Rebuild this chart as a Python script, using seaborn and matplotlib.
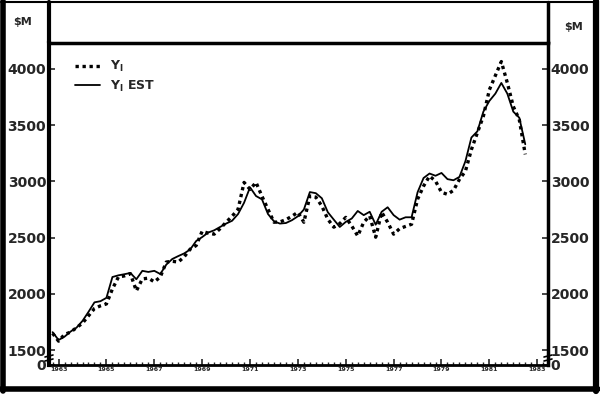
import numpy as np
import pandas as pd
import matplotlib
matplotlib.use("Agg")
import matplotlib.pyplot as plt
from matplotlib.lines import Line2D
import seaborn as sns

# quarterly observations, starting with 1962 Q4
start_year = 1962.75
y_actual = [1650, 1580, 1640, 1660, 1700, 1740, 1805, 1870, 1894, 1911,
            2044, 2150, 2160, 2180, 2027, 2133, 2140, 2107, 2150, 2283,
            2290, 2283, 2330, 2398, 2430, 2557, 2540, 2531, 2580, 2637,
            2690, 2752, 2991, 2929, 2991, 2867, 2752, 2637, 2640, 2660,
            2690, 2726, 2637, 2870, 2860, 2781, 2664, 2593, 2625, 2680,
            2604, 2515, 2637, 2693, 2504, 2726, 2637, 2531, 2580, 2600,
            2619, 2841, 2958, 3047, 3003, 2903, 2885, 2920, 3018, 3091,
            3283, 3433, 3580, 3814, 3940, 4065, 3876, 3666, 3549, 3240]
y_est = [1660, 1590, 1620, 1665, 1700, 1760, 1840, 1925, 1935, 1965,
         2150, 2165, 2175, 2186, 2130, 2205, 2195, 2205, 2177, 2260,
         2310, 2336, 2360, 2395, 2470, 2505, 2545, 2565, 2595, 2625,
         2650, 2710, 2810, 2947, 2870, 2840, 2710, 2645, 2625, 2630,
         2655, 2690, 2750, 2905, 2895, 2850, 2726, 2660, 2595, 2640,
         2670, 2737, 2700, 2730, 2615, 2730, 2770, 2700, 2660, 2681,
         2681, 2903, 3030, 3070, 3050, 3075, 3020, 3010, 3040, 3180,
         3390, 3445, 3620, 3715, 3780, 3875, 3780, 3620, 3566, 3330]
year_labels = ["1963", "1965", "1967", "1969", "1971", "1973", "1975",
               "1977", "1979", "1981", "1983"]
ytick_values = [1500, 2000, 2500, 3000, 3500, 4000]
unit_label = "$M"

quarters = start_year + np.arange(len(y_actual)) * 0.25
df = pd.DataFrame({"year": quarters, "actual": y_actual, "est": y_est})

sns.set_style("white")
plt.rcParams["font.family"] = ["DejaVu Sans"]
plt.rcParams["font.weight"] = "bold"

W, H = 600, 396
fig = plt.figure(figsize=(6, 3.96), dpi=100)
ax_l, ax_r, ax_t, ax_b = 49, 548, 43, 365
ax = fig.add_axes([ax_l / W, 1 - ax_b / H, (ax_r - ax_l) / W, (ax_b - ax_t) / H])

sns.lineplot(data=df, x="year", y="actual", ax=ax, color="black", lw=2.4,
             linestyle=(0, (1.0, 1.1)), label=r"Y$_{\mathbf{I}}$")
sns.lineplot(data=df, x="year", y="est", ax=ax, color="black", lw=1.3,
             label=r"Y$_{\mathbf{I}}$ EST")

ymin, ymax = 1368, 4230
ax.set_ylim(ymin, ymax)
ax.set_xlim(1962.6, 1983.45)

# y ticks (left and right), with the broken axis bottom marked as 0
yt = [ymin] + ytick_values
ylabels = ["0"] + [str(v) for v in ytick_values]
ax.set_yticks(yt)
ax.set_yticklabels(ylabels, fontsize=10, fontweight="bold")
ax.tick_params(axis="y", which="both", direction="in", length=4, width=1.2,
               left=True, right=True, labelleft=True, labelright=True, pad=2)

years = [int(s) for s in year_labels]
ax.set_xticks(years)
ax.set_xticklabels(year_labels, fontsize=4.5, fontweight="bold")
ax.set_xticks(np.arange(1962.75, 1983.4, 0.25), minor=True)
ax.tick_params(axis="x", which="major", direction="in", length=4, width=1.2,
               bottom=True, pad=1.5)
ax.tick_params(axis="x", which="minor", direction="in", length=2.5, width=1.0,
               bottom=True)
ax.set_xlabel("")
ax.set_ylabel("")

for s in ["left", "right", "bottom"]:
    ax.spines[s].set_visible(True)
    ax.spines[s].set_color("black")
ax.spines["left"].set_linewidth(3)
ax.spines["right"].set_linewidth(2.5)
ax.spines["bottom"].set_linewidth(2)
ax.spines["top"].set_linewidth(2.5)
ax.spines["top"].set_color("black")

leg = ax.legend(loc="upper left", bbox_to_anchor=(0.03, 0.985), frameon=False,
                handlelength=2.0, labelspacing=0.35,
                prop={"weight": "bold", "size": 9})

# frame decorations (figure coordinates)
def fx(px):
    return px / W

def fy(py):
    return 1 - py / H

fig.add_artist(Line2D([fx(ax_l), fx(ax_l)], [fy(ax_t), fy(2)], color="black", lw=3))
fig.add_artist(Line2D([fx(ax_r), fx(ax_r)], [fy(ax_t), fy(2)], color="black", lw=2.5))
fig.add_artist(Line2D([fx(3), fx(3)], [fy(1), fy(391)], color="black", lw=4))
fig.add_artist(Line2D([fx(596), fx(596)], [fy(1), fy(391)], color="black", lw=4.5))
fig.add_artist(Line2D([fx(1), fx(598)], [fy(389), fy(389)], color="black", lw=4))
fig.add_artist(Line2D([fx(1), fx(598)], [fy(1.5), fy(1.5)], color="black", lw=1.5))

# axis break marks near the bottom of both value axes
for bx in (ax_l, ax_r):
    for by in (356, 360):
        fig.add_artist(Line2D([fx(bx - 4), fx(bx + 4)], [fy(by + 1), fy(by - 1)],
                              color="black", lw=1.2))

fig.text(fx(23), fy(22), unit_label, ha="center", va="center", fontsize=8,
         fontweight="bold")
fig.text(fx(574), fy(27), unit_label, ha="center", va="center", fontsize=8,
         fontweight="bold")

fig.savefig("out.png", dpi=100, facecolor="white")
